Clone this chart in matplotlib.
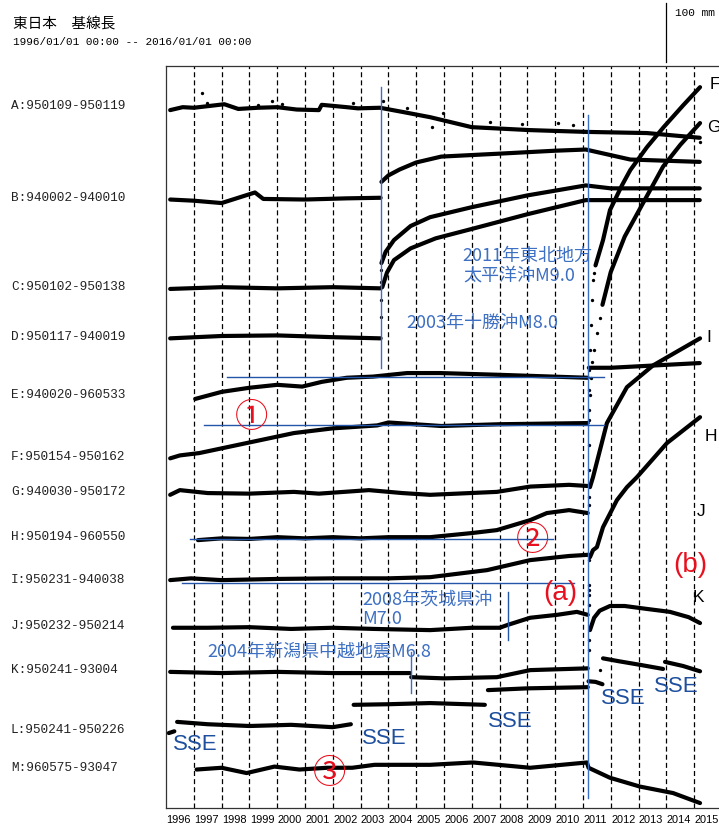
import numpy as np
import matplotlib.pyplot as plt

plt.rcParams['font.family'] = ['Noto Sans CJK JP', 'DejaVu Sans']

nan = np.nan

# baseline pairs (left column) and year labels
pairs = ['A:950109-950119', 'B:940002-940010', 'C:950102-950138', 'D:950117-940019',
         'E:940020-960533', 'F:950154-950162', 'G:940030-950172', 'H:950194-960550',
         'I:950231-940038', 'J:950232-950214', 'K:950241-93004', 'L:950241-950226',
         'M:960575-93047']
years = list(range(1996, 2016))

# baseline length change [mm]
a_t = [1996.15, 1996.6, 1997.0, 1998.1, 1998.6, 1999.3, 2000.0, 2000.7, 2001.5, 2001.6,
       2002.5, 2002.9, 2003.7, 2004.5, 2005.5, 2007.0, 2009.1, 2011.1, 2013.3, 2015.2]
a_v = [-7, -2, -3, 3, -5, -3, -2, -6, -7, 2, -2, -4, -3, -10, -19, -36, -41, -44, -46, -54]
a_dt = [1997.29, 1997.47, 1999.31, 1999.81, 2000.17, 2002.73, 2003.81, 2004.67,
        2005.57, 2005.96, 2007.65, 2008.81, 2010.1, 2010.64, 2015.21]
a_dv = [22, 5, 2, 9, 3, 5, 9, -3, -36, -12, -27, -31, -29, -32, -61]

b_t = [1996.15, 1997.0, 1998.0, 1999.2, 1999.5, 2001.0, 2002.5, 2003.72, nan,
       2003.75, 2004.0, 2004.4, 2005.0, 2005.9, 2008.0, 2010.0, 2011.1, 2012.7, 2015.2]
b_v = [-3, -5, -9, 9, -2, -3, -1, 0, nan, 27, 38, 48, 60, 70, 75, 80, 82, 65, 61]

c_t = [1996.15, 1998.0, 2000.0, 2002.0, 2003.72, nan, 2003.75, 2003.9, 2004.2, 2004.8,
       2005.5, 2007.0, 2009.0, 2011.1, 2012.0, 2015.2]
c_v = [-3, 0, -2, 0, -2, nan, 41, 60, 80, 104, 119, 136, 156, 173, 168, 168]
c_dt = [2003.73]
c_dv = [29]

d_t = [1996.15, 1998.0, 2000.0, 2002.0, 2003.72, nan, 2003.78, 2003.95, 2004.2, 2004.8,
       2005.7, 2007.0, 2009.0, 2011.1, 2015.2]
d_v = [-2, 2, 3, 0, -2, nan, 85, 110, 131, 151, 168, 184, 209, 233, 233]
d_dt = [2003.73, 2003.73, 2003.74]
d_dv = [34, 63, 94]

e_t = [1997.05, 1998.0, 1999.0, 2000.0, 2000.9, 2001.6, 2002.5, 2003.45, 2004.67,
       2005.86, 2008.0, 2011.17, nan, 2011.21, 2012.0, 2015.2]
e_v = [-7, 5, 12, 17, 14, 22, 29, 31, 37, 37, 34, 29, nan, 46, 46, 54]

f_t = [1996.15, 1996.5, 1997.2, 1998.2, 1999.4, 2000.6, 2002.0, 2003.6, 2004.0, 2005.9,
       2008.0, 2011.17, nan, 2011.45, 2011.72, 2011.97, 2012.4, 2012.7, 2013.3, 2013.9,
       2014.6, 2015.21]
f_v = [-2, 3, 7, 17, 29, 41, 49, 54, 59, 53, 56, 58, nan, 326, 369, 420, 462, 488, 527,
       561, 598, 629]
f_dt = [2011.2, 2011.21, 2011.22, 2011.24, 2011.27, 2011.31, 2011.36, 2011.4]
f_dv = [80, 114, 148, 182, 224, 267, 301, 313]

g_t = [1996.15, 1996.5, 1997.5, 1999.0, 2000.6, 2001.5, 2003.3, 2004.5, 2005.5, 2007.9,
       2009.1, 2010.5, 2011.17, nan, 2011.7, 2012.0, 2012.5, 2013.16, 2013.88, 2014.5,
       2015.21]
g_v = [-5, 3, -2, -3, 0, -3, 3, -2, -5, 0, 9, 12, 10, nan, 318, 374, 434, 491, 553, 590, 627]
g_dt = [2011.2, 2011.21, 2011.22, 2011.24, 2011.27, 2011.33, 2011.4, 2011.5, 2011.6]
g_dv = [37, 80, 122, 165, 194, 221, 241, 270, 296]

h_t = [1997.15, 1998.0, 1999.0, 2000.0, 2001.0, 2002.0, 2003.0, 2004.0, 2005.5, 2007.0,
       2007.9, 2009.1, 2009.7, 2010.5, 2011.17, nan, 2011.25, 2011.36, 2011.61, 2011.86,
       2012.58, 2013.52, 2014.4, 2015.21]
h_v = [-5, -2, -3, 0, -2, 0, -2, 0, 0, 7, 12, 29, 41, 46, 41, nan, 85, 102, 148, 194, 255,
       292, 316, 338]
h_dt = [2011.2, 2011.22]
h_dv = [54, 68]

i_t = [1996.15, 1996.9, 1998.0, 2000.0, 2002.0, 2004.0, 2005.5, 2007.55, 2009.1, 2010.5,
       2011.17, nan, 2011.25, 2011.36, 2011.5, 2011.72, 2012.22, 2012.58, 2012.94,
       2014.02, 2015.21]
i_v = [0, 3, 0, 2, 3, 3, 5, 17, 34, 41, 43, nan, 39, 51, 56, 90, 136, 158, 175, 233, 277]
i_dt = [2011.2, 2011.21]
i_dv = [34, -17]

j_t = [1996.25, 1997.5, 1999.0, 2000.5, 2002.0, 2003.5, 2005.5, 2007.0, 2008.0, 2008.3,
       2009.1, 2010.07, 2010.78, 2011.17, nan, 2011.25, 2011.4, 2011.6, 2011.97, 2012.5,
       2013.3, 2014.13, 2014.8, 2015.21]
j_v = [-3, -3, -2, -5, -3, -5, -7, -3, -3, 2, 14, 19, 24, 19, nan, -7, 14, 26, 34, 34,
       29, 24, 15, 5]
j_dt = [2011.2, 2011.2, 2011.2, 2011.21, 2011.21]
j_dv = [70, 53, 36, -24, -41]

k_t = [1996.15, 1998.0, 2000.0, 2002.0, 2004.78, nan, 2004.82, 2006.0, 2007.9, 2009.1,
       2011.17, nan, 2011.2, 2011.45, 2011.7]
k_v = [-3, -5, -3, -5, -5, nan, -12, -14, -12, 0, 3, nan, -19, -20, -24]

l_t = [1996.1, 1996.3, nan, 1996.4, 1997.5, 1999.0, 2000.5, 2002.0, 2002.65, nan,
       2002.75, 2004.0, 2005.5, 2007.47, nan, 2007.58, 2009.0, 2011.17, nan, 2011.72,
       2012.3, 2013.05, 2013.88, nan, 2013.95, 2014.6, 2015.21]
l_v = [-5, -2, nan, 14, 10, 7, 9, 5, 10, nan, 43, 44, 46, 43, nan, 68, 71, 73, nan, 122,
       117, 111, 104, nan, 116, 109, 100]
l_dt = [2011.61]
l_dv = [102]

m_t = [1997.1, 1998.0, 1998.9, 1999.9, 2000.8, 2001.8, 2002.7, 2003.5, 2005.5, 2007.04,
       2009.1, 2011.14, 2011.2, 2011.97, 2013.05, 2014.24, 2015.21]
m_v = [-3, 0, -9, 2, -3, 0, 0, 5, 5, 9, 0, 9, 0, -17, -32, -43, -60]

# earthquakes
eq_2003 = 2003.73
eq_2004 = 2004.8
eq_2008 = 2008.3
eq_2011 = 2011.19

# ---- layout -------------------------------------------------------------
MM = 1.7                  # mm per pixel of the original plot
H = 742 * MM              # axes height in mm
row_base = [-68, -224, -376, -461, -559, -665, -724, -801, -874, -952, -1027, -1129, -1193]

series = [(a_t, a_v, a_dt, a_dv), (b_t, b_v, [], []), (c_t, c_v, c_dt, c_dv),
          (d_t, d_v, d_dt, d_dv), (e_t, e_v, [], []), (f_t, f_v, f_dt, f_dv),
          (g_t, g_v, g_dt, g_dv), (h_t, h_v, h_dt, h_dv), (i_t, i_v, i_dt, i_dv),
          (j_t, j_v, j_dt, j_dv), (k_t, k_v, [], []), (l_t, l_v, l_dt, l_dv),
          (m_t, m_v, [], [])]

fig = plt.figure(figsize=(7.19, 8.30), dpi=100)
ax = fig.add_axes([166 / 719, 22 / 830, 556 / 719, 742 / 830])
ax.set_xlim(1996, 2016)
ax.set_ylim(-H, 0)

ax.vlines(years[1:], -H, 0, colors='k', linestyles=(0, (4, 2.5)), lw=0.9)

for base, (t, v, dt, dv) in zip(row_base, series):
    ax.plot(t, base + np.array(v, dtype=float), color='k', lw=3.0,
            solid_capstyle='round', solid_joinstyle='round')
    if dt:
        ax.plot(dt, base + np.array(dv, dtype=float), 'o', color='k', ms=2.4, mew=0)

for lab, base in zip(pairs, row_base):
    ax.text(-0.279, base, lab, transform=ax.get_yaxis_transform(), ha='left',
            va='center', family=['Liberation Mono', 'DejaVu Sans Mono'], size=9.2,
            color='#222222')

# event lines
vblue = '#3a6fc8'
hblue = '#2356a8'
ax.plot([eq_2003, eq_2003], [-36, -513], color=vblue, lw=1)
ax.plot([eq_2011, eq_2011], [-83, -1244], color=vblue, lw=1)
ax.plot([eq_2008, eq_2008], [-894, -976], color=hblue, lw=1)
ax.plot([eq_2004, eq_2004], [-996, -1066], color=vblue, lw=1)
ax.plot([1998.19, 2011.75], [-529, -529], color=hblue, lw=1)
ax.plot([1997.37, 2011.75], [-610, -610], color=hblue, lw=1)
ax.plot([1996.86, 2009.92], [-804, -804], color=hblue, lw=1)
ax.plot([1996.58, 2010.69], [-879, -879], color=hblue, lw=1)

tblue = '#3d6fc2'
cjk = ['Noto Sans CJK JP', 'DejaVu Sans']
ax.text(2006.65, -323, '2011年東北地方', color=tblue, size=13, family=cjk, va='center')
ax.text(2006.68, -357, '太平洋沖M9.0', color=tblue, size=13, family=cjk, va='center')
ax.text(2004.63, -437, '2003年十勝沖M8.0', color=tblue, size=13, family=cjk, va='center')
ax.text(2003.05, -908, '2008年茨城県沖', color=tblue, size=13, family=cjk, va='center')
ax.text(2003.05, -940, 'M7.0', color=tblue, size=13, family=cjk, va='center')
ax.text(1997.47, -996, '2004年新潟県中越地震M6.8', color=tblue, size=13, family=cjk,
        va='center')

sse_blue = '#1d4f9e'
for x, y in [(1997.04, -1154), (2003.84, -1144), (2008.37, -1115), (2012.44, -1076),
             (2014.35, -1054)]:
    ax.text(x, y, 'SSE', color=sse_blue, size=16, family=['Liberation Sans', 'DejaVu Sans'],
            ha='center', va='center')

red = '#e8101e'
for x, y, s in [(1999.09, -598, '①'), (2009.2, -806, '②'), (2001.9, -1202, '③')]:
    ax.text(x, y, s, color=red, size=24, family=cjk, ha='center', va='center')
ax.text(2010.17, -896, '(a)', color=red, size=20, family=['Liberation Sans', 'DejaVu Sans'],
        ha='center', va='center')
ax.text(2014.85, -848, '(b)', color=red, size=20, family=['Liberation Sans', 'DejaVu Sans'],
        ha='center', va='center')

for x, y, s in [(2015.57, -32, 'F'), (2015.45, -104, 'G'), (2015.42, -462, 'I'),
                (2015.39, -629, 'H'), (2015.1, -758, 'J'), (2014.96, -904, 'K')]:
    ax.text(x, y, s, color='k', size=12.5, family=['Liberation Sans', 'DejaVu Sans'],
            ha='left', va='center')

# scale bar
ax.plot([2014.0, 2014.0], [7, 107], color='k', lw=0.9, clip_on=False)
ax.text(2014.31, 90, '100 mm', size=8, family=['Liberation Mono', 'DejaVu Sans Mono'],
        ha='left', va='center', clip_on=False)

ax.set_xticks([y + 0.45 for y in years])
ax.set_xticklabels([str(y) for y in years],
                   fontfamily=['Liberation Sans', 'DejaVu Sans'], fontsize=7.9)
ax.tick_params(axis='x', length=0, pad=5)
ax.set_yticks([])
for side in ['left', 'top', 'bottom']:
    ax.spines[side].set_color('#333333')
    ax.spines[side].set_linewidth(0.9)
ax.spines['right'].set_visible(False)

fig.text(13 / 719, 1 - 24 / 830, '東日本　基線長', size=10.5, va='center')
fig.text(13 / 719, 1 - 42 / 830, '1996/01/01 00:00 -- 2016/01/01 00:00', size=7.9,
         family=['Liberation Mono', 'DejaVu Sans Mono'], va='center')

fig.savefig('out.png', dpi=100)
